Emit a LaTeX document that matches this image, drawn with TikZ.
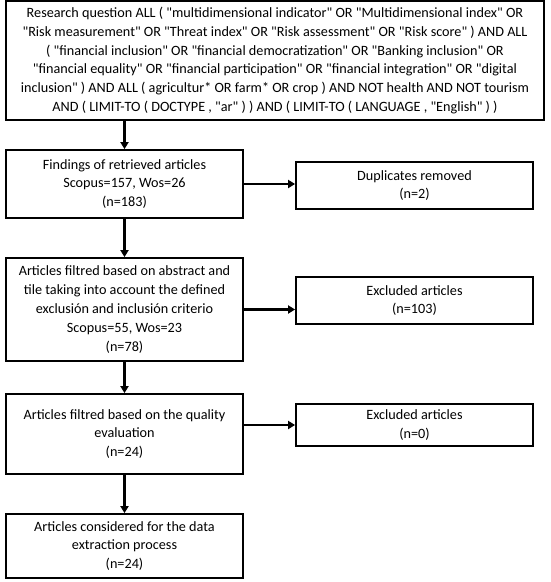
\documentclass[tikz,border=0pt]{standalone}
\usepackage{fontspec}
\setmainfont{Carlito}[Ligatures=TeXOff]
\usetikzlibrary{arrows.meta}
\newcommand{\dq}{"}
\begin{document}
\begin{tikzpicture}[x=1pt,y=-1pt,
  box/.style={draw=black,line width=1.8pt,fill=white,align=center,inner sep=1pt,
    font=\fontsize{14.2}{18.8}\selectfont,text=black},
  arr/.style={line width=2.4pt,-{Triangle[length=7pt,width=8pt]}}]
\useasboundingbox (0,0) rectangle (550,582);
\node[box,minimum width=538pt,minimum height=119pt] (q) at (275,60.5)
  {Research question ALL ( \dq multidimensional indicator\dq{} OR \dq Multidimensional index\dq{} OR\\
   \dq Risk measurement\dq{} OR \dq Threat index\dq{} OR \dq Risk assessment\dq{} OR \dq Risk score\dq{} ) AND ALL\\
   ( \dq financial inclusion\dq{} OR \dq financial democratization\dq{} OR \dq Banking inclusion\dq{} OR\\
   \dq financial equality\dq{} OR \dq financial participation\dq{} OR \dq financial integration\dq{} OR \dq digital\\
   inclusion\dq{} ) AND ALL ( agricultur* OR farm* OR crop ) AND NOT health AND NOT tourism\\
   AND ( LIMIT-TO ( DOCTYPE , \dq ar\dq{} ) ) AND ( LIMIT-TO ( LANGUAGE , \dq English\dq{} ) )};
\node[box,minimum width=237pt,minimum height=68pt] (f) at (124.5,184)
  {Findings of retrieved articles\\Scopus=157, Wos=26\\(n=183)};
\node[box,minimum width=237pt,minimum height=47pt] (d) at (414.5,185.5)
  {Duplicates removed\\(n=2)};
\node[box,minimum width=237pt,minimum height=103pt] (a) at (124.5,309.5)
  {Articles filtred based on abstract and\\tile taking into account the defined\\exclusión and inclusión criterio\\Scopus=55, Wos=23\\(n=78)};
\node[box,minimum width=237pt,minimum height=47pt] (e1) at (414.5,300.5)
  {Excluded articles\\(n=103)};
\node[box,minimum width=237pt,minimum height=80pt] (b) at (124.5,434)
  {Articles filtred based on the quality\\evaluation\\(n=24)};
\node[box,minimum width=237pt,minimum height=42pt] (e2) at (414.5,425)
  {Excluded articles\\(n=0)};
\node[box,minimum width=237pt,minimum height=64pt] (c) at (124.5,546)
  {Articles considered for the data\\extraction process\\(n=24)};
\draw[arr] (q.south -| f.north) -- (f.north);
\draw[arr] (f.east) -- (f.east -| d.west);
\draw[arr] (f.south) -- (a.north);
\draw[arr] (a.east) -- (a.east -| e1.west);
\draw[arr] (a.south) -- (b.north);
\draw[arr] (e2.west -| b.east) -- (e2.west);
\draw[arr] (b.south) -- (c.north);
\end{tikzpicture}
\end{document}
